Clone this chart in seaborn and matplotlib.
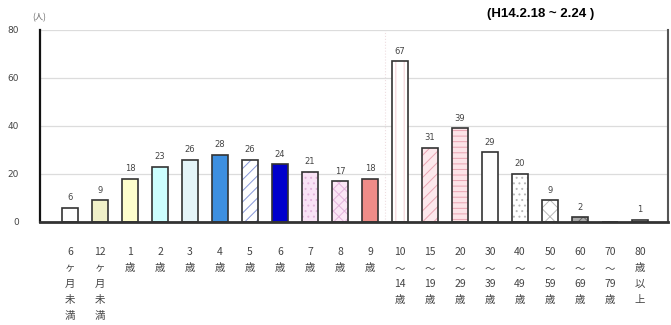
import pandas as pd
import matplotlib
matplotlib.use('Agg')
import matplotlib.pyplot as plt
import seaborn as sns

# データ
categories = ['6\nヶ\n月\n未\n満', '12\nヶ\n月\n未\n満', '1\n歳', '2\n歳', '3\n歳', '4\n歳',
              '5\n歳', '6\n歳', '7\n歳', '8\n歳', '9\n歳',
              '10\n～\n14\n歳', '15\n～\n19\n歳', '20\n～\n29\n歳', '30\n～\n39\n歳',
              '40\n～\n49\n歳', '50\n～\n59\n歳', '60\n～\n69\n歳', '70\n～\n79\n歳',
              '80\n歳\n以\n上']
values = [6, 9, 18, 23, 26, 28, 26, 24, 21, 17, 18, 67, 31, 39, 29, 20, 9, 2, 0, 1]
y_ticks = [0, 20, 40, 60, 80]

# 棒ごとの色と模様
face_colors = ['#ffffff', '#f0f0c8', '#ffffcc', '#ccffff', '#e4f4f8', '#3d8fe0',
               '#ffffff', '#0000cc', '#f9e2f5', '#fbe6f5', '#ee8c88',
               '#ffffff', '#fde8ec', '#fde4e8', '#ffffff', '#ffffff', '#ffffff',
               '#aaaaaa', '#ffffff', '#ffffff']
hatches = [None, None, None, None, None, None,
           '///', None, '...', 'xxx', None,
           '||', '///', '---', None, '...', 'xx', 'xx', None, None]
hatch_colors = ['none', 'none', 'none', 'none', 'none', 'none',
                '#8898d8', 'none', '#e4b4dc', '#e4b4dc', 'none',
                '#f4cdd4', '#eaa4b2', '#eaa4b2', 'none', '#b8b8b8', '#b8b8b8',
                '#666666', 'none', 'none']

df = pd.DataFrame({'区分': categories, '人数': values})

plt.rcParams['hatch.linewidth'] = 0.7
fig = plt.figure(figsize=(6.71, 3.25), dpi=100)
ax = fig.add_axes([0.0596, 0.317, 0.936, 0.591])

# 塗り・模様
sns.barplot(data=df, x='区分', y='人数', ax=ax, width=0.55, color='white',
            linewidth=0, saturation=1)
for patch, fc, h, hc in zip(ax.patches, face_colors, hatches, hatch_colors):
    patch.set_facecolor(fc)
    if h:
        patch.set_hatch(h)
        patch.set_edgecolor(hc)
        patch.set_linewidth(0)

# 枠線
sns.barplot(data=df, x='区分', y='人数', ax=ax, width=0.55, fill=False,
            color='#333333', linewidth=1.2)

# 数値ラベル
labels = [str(v) if v > 0 else '' for v in values]
ax.bar_label(ax.containers[0], labels=labels, padding=4, fontsize=6,
             color='#444444')

ax.set_xlim(-1.0, 19.93)
ax.set_ylim(0, 80)
ax.set_yticks(y_ticks)
ax.set_yticklabels([str(t) for t in y_ticks], fontsize=6.5, color='#444444')
ax.tick_params(axis='y', length=0, pad=15)
ax.set_xticks(range(len(categories)))
ax.set_xticklabels(categories, fontsize=7.5, color='#444444', linespacing=1.75,
                   family=['Noto Sans CJK JP', 'DejaVu Sans'], va='top')
ax.tick_params(axis='x', length=0, pad=18)
ax.set_xlabel('')
ax.set_ylabel('')

ax.yaxis.grid(True, color='#dcdcdc', linewidth=0.9)
ax.set_axisbelow(True)
ax.axvline(10.5, color='#eedde0', linewidth=0.8, linestyle=':', zorder=0)

ax.spines['top'].set_visible(False)
ax.spines['left'].set_color('#111111')
ax.spines['left'].set_linewidth(1.6)
ax.spines['bottom'].set_color('#333333')
ax.spines['bottom'].set_linewidth(2)
ax.spines['right'].set_color('#555555')
ax.spines['right'].set_linewidth(1.5)

fig.text(0.048, 0.945, '(人)', fontsize=6, color='#666666',
         family=['Noto Sans CJK JP', 'DejaVu Sans'], va='center')
fig.text(0.806, 0.958, '(H14.2.18 ~ 2.24 )', fontsize=9.5, fontweight='bold',
         family='Liberation Sans', ha='center', va='center')

fig.savefig('out.png', dpi=100, facecolor='white')
